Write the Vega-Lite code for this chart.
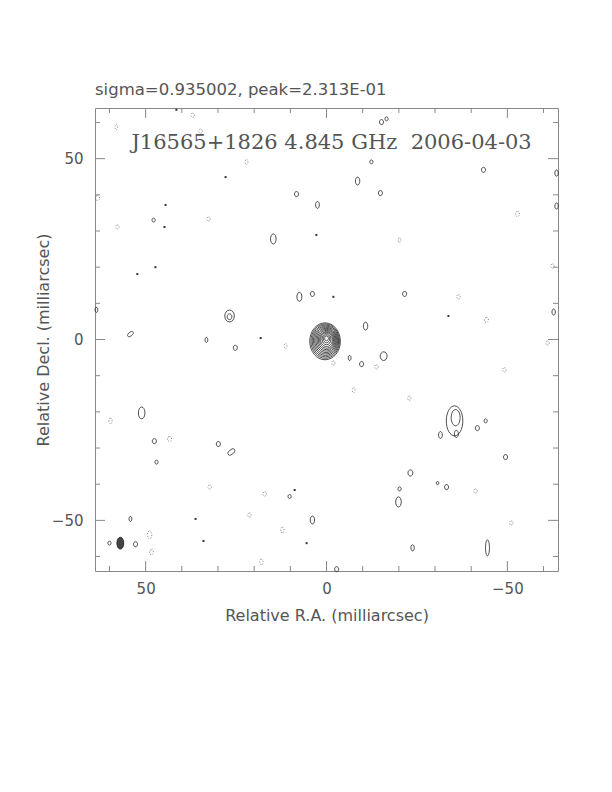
{
  "$schema": "https://vega.github.io/schema/vega-lite/v6.json",
  "width": 463,
  "height": 463,
  "autosize": "none",
  "padding": {"left": 95, "top": 108, "right": 54, "bottom": 221},
  "background": "white",
  "title": {
    "text": "sigma=0.935002, peak=2.313E-01",
    "anchor": "start",
    "frame": "group",
    "font": "DejaVu Sans",
    "fontSize": 16.5,
    "fontWeight": "normal",
    "color": "#555",
    "offset": 9
  },
  "config": {
    "view": {"stroke": "#888", "strokeWidth": 1},
    "axis": {
      "grid": false,
      "domain": false,
      "ticks": false,
      "labelColor": "#555",
      "labelFont": "DejaVu Sans",
      "labelFontSize": 15,
      "titleFont": "DejaVu Sans",
      "titleFontSize": 16,
      "titleFontWeight": "normal",
      "titleColor": "#555"
    }
  },
  "datasets": {
    "pos": [
      {"x": 0.4, "y": -0.5, "h": 10.2, "s": "c"},
      {"x": 0.35, "y": -0.45, "h": 9.5, "s": "c"},
      {"x": 0.3, "y": -0.4, "h": 8.8, "s": "c"},
      {"x": 0.25, "y": -0.35, "h": 8.1, "s": "c"},
      {"x": 0.2, "y": -0.3, "h": 7.4, "s": "c"},
      {"x": 0.15, "y": -0.25, "h": 6.7, "s": "c"},
      {"x": 0.1, "y": -0.2, "h": 6.0, "s": "c"},
      {"x": 0.05, "y": -0.15, "h": 5.3, "s": "c"},
      {"x": 0.0, "y": -0.1, "h": 4.6, "s": "c"},
      {"x": 0.0, "y": 0.0, "h": 3.9, "s": "c"},
      {"x": 0.0, "y": 0.1, "h": 3.1, "s": "o"},
      {"x": 0.0, "y": 0.2, "h": 2.2, "s": "o"},
      {"x": 0.0, "y": 0.3, "h": 1.3, "s": "o"},
      {"x": -15.2, "y": 60.1, "h": 1.4, "s": "o"},
      {"x": -16.6, "y": 61.0, "h": 1.1, "s": "o"},
      {"x": -12.4, "y": 49.1, "h": 1.1, "s": "o"},
      {"x": -8.6, "y": 43.8, "h": 2.2, "s": "v"},
      {"x": 8.3, "y": 40.2, "h": 1.4, "s": "o"},
      {"x": 2.5, "y": 37.2, "h": 1.9, "s": "v"},
      {"x": -14.9, "y": 40.5, "h": 1.4, "s": "o"},
      {"x": -43.4, "y": 46.9, "h": 1.4, "s": "o"},
      {"x": -63.6, "y": 46.0, "h": 1.7, "s": "v"},
      {"x": -63.6, "y": 36.9, "h": 1.7, "s": "v"},
      {"x": 14.7, "y": 27.8, "h": 2.8, "s": "v"},
      {"x": 7.5, "y": 11.8, "h": 2.5, "s": "v"},
      {"x": 3.9, "y": 12.6, "h": 1.4, "s": "o"},
      {"x": 26.8, "y": 6.5, "h": 3.3, "s": "o"},
      {"x": 26.8, "y": 6.3, "h": 1.6, "s": "o"},
      {"x": 54.2, "y": 1.5, "h": 1.8, "s": "t"},
      {"x": 63.6, "y": 8.2, "h": 1.4, "s": "v"},
      {"x": 33.2, "y": -0.1, "h": 1.4, "s": "v"},
      {"x": 25.2, "y": -2.3, "h": 1.4, "s": "o"},
      {"x": -10.8, "y": 3.7, "h": 2.2, "s": "v"},
      {"x": -15.8, "y": -4.6, "h": 2.4, "s": "o"},
      {"x": -9.7, "y": -6.8, "h": 1.4, "s": "o"},
      {"x": -6.4, "y": -5.1, "h": 1.4, "s": "v"},
      {"x": -21.6, "y": 12.6, "h": 1.4, "s": "o"},
      {"x": -62.8, "y": 7.6, "h": 1.7, "s": "v"},
      {"x": 47.8, "y": 33.0, "h": 1.1, "s": "o"},
      {"x": 51.1, "y": -20.3, "h": 3.3, "s": "v"},
      {"x": 47.6, "y": -28.1, "h": 1.4, "s": "o"},
      {"x": 47.0, "y": -33.9, "h": 1.1, "s": "o"},
      {"x": 29.9, "y": -28.9, "h": 1.4, "s": "o"},
      {"x": 26.3, "y": -31.1, "h": 2.2, "s": "t"},
      {"x": 10.2, "y": -43.4, "h": 1.1, "s": "o"},
      {"x": 3.9, "y": -49.9, "h": 2.2, "s": "v"},
      {"x": -19.9, "y": -44.9, "h": 2.8, "s": "v"},
      {"x": -20.2, "y": -41.3, "h": 1.1, "s": "o"},
      {"x": -23.2, "y": -36.9, "h": 1.7, "s": "o"},
      {"x": -30.7, "y": -39.7, "h": 0.9, "s": "o"},
      {"x": -33.2, "y": -40.8, "h": 1.4, "s": "o"},
      {"x": -31.5, "y": -26.4, "h": 1.9, "s": "v"},
      {"x": -41.7, "y": -24.5, "h": 1.4, "s": "o"},
      {"x": -44.0, "y": -22.5, "h": 1.1, "s": "o"},
      {"x": -49.5, "y": -32.5, "h": 1.4, "s": "o"},
      {"x": -23.8, "y": -57.6, "h": 1.7, "s": "v"},
      {"x": -44.5, "y": -57.6, "h": 4.4, "s": "n"},
      {"x": 54.2, "y": -49.6, "h": 1.4, "s": "v"},
      {"x": 60.0, "y": -56.3, "h": 1.1, "s": "o"},
      {"x": 52.8, "y": -56.6, "h": 1.4, "s": "o"},
      {"x": -2.8, "y": -63.5, "h": 1.4, "s": "o"},
      {"x": -35.4, "y": -22.5, "h": 8.3, "s": "v"},
      {"x": -35.7, "y": -21.6, "h": 4.5, "s": "v"},
      {"x": -35.9, "y": -26.1, "h": 2.0, "s": "v"}
    ],
    "neg": [
      {"x": 63.3, "y": 39.1, "h": 1.4, "s": "o"},
      {"x": 58.1, "y": 58.7, "h": 1.4, "s": "v"},
      {"x": 45.1, "y": 56.0, "h": 1.4, "s": "v"},
      {"x": 37.0, "y": 62.0, "h": 1.2, "s": "o"},
      {"x": 34.8, "y": 57.6, "h": 1.2, "s": "o"},
      {"x": 22.1, "y": 49.1, "h": 1.4, "s": "v"},
      {"x": 32.6, "y": 33.3, "h": 1.2, "s": "o"},
      {"x": 57.8, "y": 31.1, "h": 1.2, "s": "o"},
      {"x": -20.2, "y": 27.5, "h": 1.4, "s": "v"},
      {"x": -36.5, "y": 11.8, "h": 1.2, "s": "o"},
      {"x": -44.2, "y": 5.4, "h": 1.4, "s": "o"},
      {"x": -52.8, "y": 34.7, "h": 1.4, "s": "o"},
      {"x": -62.5, "y": 20.3, "h": 1.2, "s": "o"},
      {"x": -61.1, "y": -1.0, "h": 1.2, "s": "o"},
      {"x": 11.3, "y": -1.8, "h": 1.4, "s": "v"},
      {"x": -7.5, "y": -14.0, "h": 1.4, "s": "v"},
      {"x": -1.9, "y": -6.5, "h": 1.2, "s": "o"},
      {"x": -13.8, "y": -7.6, "h": 1.2, "s": "o"},
      {"x": -22.9, "y": -16.2, "h": 1.2, "s": "o"},
      {"x": 59.7, "y": -22.5, "h": 1.6, "s": "v"},
      {"x": 43.4, "y": -27.5, "h": 1.4, "s": "o"},
      {"x": 32.3, "y": -40.8, "h": 1.2, "s": "o"},
      {"x": 17.1, "y": -42.7, "h": 1.2, "s": "o"},
      {"x": 12.2, "y": -52.7, "h": 1.6, "s": "v"},
      {"x": 18.0, "y": -61.5, "h": 1.6, "s": "v"},
      {"x": 21.3, "y": -48.5, "h": 1.2, "s": "o"},
      {"x": 48.9, "y": -54.0, "h": 2.2, "s": "v"},
      {"x": 48.4, "y": -58.8, "h": 1.4, "s": "o"},
      {"x": -51.1, "y": -50.7, "h": 1.2, "s": "o"},
      {"x": -41.2, "y": -41.9, "h": 1.2, "s": "o"},
      {"x": -49.2, "y": -8.4, "h": 1.2, "s": "o"}
    ],
    "dots": [
      {"x": 27.9, "y": 44.9},
      {"x": 2.8, "y": 28.9},
      {"x": 18.2, "y": 0.4},
      {"x": 36.2, "y": -49.6},
      {"x": 34.0, "y": -55.7},
      {"x": 5.5, "y": -56.3},
      {"x": -1.9, "y": 11.8},
      {"x": 47.3, "y": 20.0},
      {"x": 52.3, "y": 18.1},
      {"x": 44.5, "y": 37.2},
      {"x": 44.8, "y": 31.1},
      {"x": 41.5, "y": 63.5},
      {"x": -33.7, "y": 6.5},
      {"x": 8.8, "y": -41.6}
    ],
    "beam": [
      {"x": 57.0, "y": -56.3, "h": 3.3, "s": "b"}
    ],
    "ticks": [
      {"v": 60, "major": 0}, {"v": 50, "major": 1}, {"v": 40, "major": 0}, {"v": 30, "major": 0},
      {"v": 20, "major": 0}, {"v": 10, "major": 0}, {"v": 0, "major": 1}, {"v": -10, "major": 0},
      {"v": -20, "major": 0}, {"v": -30, "major": 0}, {"v": -40, "major": 0}, {"v": -50, "major": 1},
      {"v": -60, "major": 0}
    ],
    "label": [
      {"x": -1.4, "y": 54.3, "text": "J16565+1826 4.845 GHz\u00a0\u00a02006-04-03"}
    ]
  },
  "resolve": {"axis": {"x": "independent", "y": "independent"}},
  "layer": [
    {
      "data": {"name": "pos"},
      "mark": {"type": "point", "filled": false, "stroke": "#222", "strokeWidth": 0.8, "opacity": 1},
      "encoding": {
        "x": {
          "field": "x", "type": "quantitative",
          "scale": {"domain": [64, -64], "nice": false, "zero": false},
          "axis": {
            "orient": "bottom",
            "title": "Relative R.A. (milliarcsec)",
            "values": [50, 0, -50],
            "labelPadding": 10,
            "titlePadding": 11
          }
        },
        "y": {
          "field": "y", "type": "quantitative",
          "scale": {"domain": [-64, 64], "nice": false, "zero": false},
          "axis": {
            "orient": "left",
            "title": "Relative Decl. (milliarcsec)",
            "values": [50, 0, -50],
            "labelPadding": 12,
            "titlePadding": 0
          }
        },
        "size": {
          "field": "h", "type": "quantitative", "legend": null,
          "scale": {"type": "pow", "exponent": 2, "domain": [0, 10], "range": [0, 1308.3]}
        },
        "shape": {
          "field": "s", "type": "nominal", "legend": null,
          "scale": {
            "domain": ["c", "o", "v", "t", "n", "b"],
            "range": [
              "M0,-1A0.83,1 0 1,1 0,1A0.83,1 0 1,1 0,-1Z",
              "M0,-1A0.8,1 0 1,1 0,1A0.8,1 0 1,1 0,-1Z",
              "M0,-1A0.55,1 0 1,1 0,1A0.55,1 0 1,1 0,-1Z",
              "M-0.75,0.6A1,0.45 -40 1,1 0.75,-0.6A1,0.45 -40 1,1 -0.75,0.6Z",
              "M0,-1A0.25,1 0 1,1 0,1A0.25,1 0 1,1 0,-1Z",
              "M0,-1A0.58,1 0 1,1 0,1A0.58,1 0 1,1 0,-1Z"
            ]
          }
        }
      }
    },
    {
      "data": {"name": "neg"},
      "mark": {"type": "point", "filled": false, "stroke": "#666", "strokeWidth": 0.8, "strokeDash": [1, 1.5], "opacity": 1},
      "encoding": {
        "x": {"field": "x", "type": "quantitative", "axis": null},
        "y": {"field": "y", "type": "quantitative", "axis": null},
        "size": {"field": "h", "type": "quantitative", "legend": null},
        "shape": {"field": "s", "type": "nominal", "legend": null}
      }
    },
    {
      "data": {"name": "dots"},
      "mark": {"type": "square", "filled": true, "color": "#333", "size": 4, "opacity": 1},
      "encoding": {
        "x": {"field": "x", "type": "quantitative", "axis": null},
        "y": {"field": "y", "type": "quantitative", "axis": null}
      }
    },
    {
      "data": {"name": "beam"},
      "mark": {"type": "point", "filled": true, "fill": "#444", "stroke": "#222", "strokeWidth": 0.8, "opacity": 1},
      "encoding": {
        "x": {"field": "x", "type": "quantitative", "axis": null},
        "y": {"field": "y", "type": "quantitative", "axis": null},
        "size": {"field": "h", "type": "quantitative", "legend": null},
        "shape": {"field": "s", "type": "nominal", "legend": null}
      }
    },
    {
      "data": {"name": "ticks"},
      "transform": [{"filter": "datum.major == 1"}],
      "mark": {"type": "rule", "color": "#888", "strokeWidth": 1},
      "encoding": {
        "x": {"field": "v", "type": "quantitative", "axis": null},
        "y": {"datum": -64, "type": "quantitative", "axis": null},
        "y2": {"datum": -61.24}
      }
    },
    {
      "data": {"name": "ticks"},
      "transform": [{"filter": "datum.major == 0"}],
      "mark": {"type": "rule", "color": "#888", "strokeWidth": 1},
      "encoding": {
        "x": {"field": "v", "type": "quantitative", "axis": null},
        "y": {"datum": -64, "type": "quantitative", "axis": null},
        "y2": {"datum": -62.62}
      }
    },
    {
      "data": {"name": "ticks"},
      "transform": [{"filter": "datum.major == 1"}],
      "mark": {"type": "rule", "color": "#888", "strokeWidth": 1},
      "encoding": {
        "x": {"field": "v", "type": "quantitative", "axis": null},
        "y": {"datum": 64, "type": "quantitative", "axis": null},
        "y2": {"datum": 61.24}
      }
    },
    {
      "data": {"name": "ticks"},
      "transform": [{"filter": "datum.major == 0"}],
      "mark": {"type": "rule", "color": "#888", "strokeWidth": 1},
      "encoding": {
        "x": {"field": "v", "type": "quantitative", "axis": null},
        "y": {"datum": 64, "type": "quantitative", "axis": null},
        "y2": {"datum": 62.62}
      }
    },
    {
      "data": {"name": "ticks"},
      "transform": [{"filter": "datum.major == 1"}],
      "mark": {"type": "rule", "color": "#888", "strokeWidth": 1},
      "encoding": {
        "y": {"field": "v", "type": "quantitative", "axis": null},
        "x": {"datum": 64, "type": "quantitative", "axis": null},
        "x2": {"datum": 61.24}
      }
    },
    {
      "data": {"name": "ticks"},
      "transform": [{"filter": "datum.major == 0"}],
      "mark": {"type": "rule", "color": "#888", "strokeWidth": 1},
      "encoding": {
        "y": {"field": "v", "type": "quantitative", "axis": null},
        "x": {"datum": 64, "type": "quantitative", "axis": null},
        "x2": {"datum": 62.62}
      }
    },
    {
      "data": {"name": "ticks"},
      "transform": [{"filter": "datum.major == 1"}],
      "mark": {"type": "rule", "color": "#888", "strokeWidth": 1},
      "encoding": {
        "y": {"field": "v", "type": "quantitative", "axis": null},
        "x": {"datum": -64, "type": "quantitative", "axis": null},
        "x2": {"datum": -61.24}
      }
    },
    {
      "data": {"name": "ticks"},
      "transform": [{"filter": "datum.major == 0"}],
      "mark": {"type": "rule", "color": "#888", "strokeWidth": 1},
      "encoding": {
        "y": {"field": "v", "type": "quantitative", "axis": null},
        "x": {"datum": -64, "type": "quantitative", "axis": null},
        "x2": {"datum": -62.62}
      }
    },
    {
      "data": {"name": "label"},
      "mark": {"type": "text", "font": "DejaVu Serif", "fontSize": 21, "color": "#555", "align": "center", "baseline": "middle"},
      "encoding": {
        "x": {"field": "x", "type": "quantitative", "axis": null},
        "y": {"field": "y", "type": "quantitative", "axis": null},
        "text": {"field": "text", "type": "nominal"}
      }
    }
  ]
}
